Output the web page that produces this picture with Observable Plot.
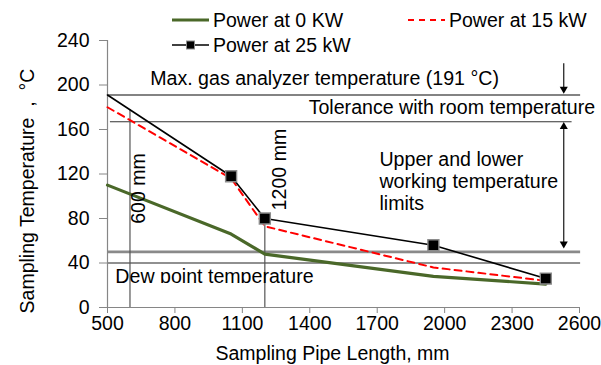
<!DOCTYPE html>
<html>
<head>
<meta charset="utf-8">
<script src="https://cdn.jsdelivr.net/npm/d3@7"></script>
<script src="https://cdn.jsdelivr.net/npm/@observablehq/plot@0.6"></script>
<style>
  body { margin: 0; background: #fff; }
  #chart { position: relative; width: 601px; height: 365px; font-family: "Liberation Sans", Arial, sans-serif; }
  #chart svg { display: block; }
  .key { position: absolute; display: flex; align-items: center; height: 24px; font-size: 19.5px; color: #000; white-space: nowrap; }
  .key svg { margin-right: 4px; }
</style>
</head>
<body>
<div id="chart"></div>
<script>
// Sampling pipe length (mm) at each measuring point
const pipeLengths = [500, 1050, 1200, 1950, 2450];
// Sampling temperature (°C) for each heater power
const temp0kW  = [110, 66, 48, 28, 21];
const temp15kW = [180, 116, 73, 36, 24];
const temp25kW = [191, 118, 80, 56, 26];

const seriesNames = ["Power at 0 KW", "Power at 15 kW", "Power at 25 kW"];

// Reference temperatures (°C)
const maxAnalyzerTemp = 191;
const roomToleranceTemp = 167;
const lowerLimitTemp = 50;
const dewPointTemp = 40;

// Marked pipe lengths (mm) and the 25 kW temperature reached there
const markedLengths = [600, 1200];
const markedTops = [178, 80];

const xTicks = [500, 800, 1100, 1400, 1700, 2000, 2300, 2600];
const yTicks = [0, 40, 80, 120, 160, 200, 240];

const toRows = (temps) => pipeLengths.map((len, i) => ({len, temp: temps[i]}));
const rows0 = toRows(temp0kW);
const rows15 = toRows(temp15kW);
const rows25 = toRows(temp25kW);
const marked = markedLengths.map((len, i) => ({len, top: markedTops[i]}));

const ink = "#000";
const green = "#4a6829";
const red = "#ff0000";
const axisGray = "#868686";
const dewLabel = "Dew point temperature";
const arrowX = 2530;
const noteSize = 19.6;

const plot = Plot.plot({
  width: 601,
  height: 365,
  marginLeft: 107,
  marginRight: 22,
  marginTop: 40,
  marginBottom: 58,
  x: {domain: [500, 2600]},
  y: {domain: [0, 240]},
  style: {fontFamily: "'Liberation Sans', Arial, sans-serif", fontSize: "19.5px", background: "#fff", color: "#000", overflow: "visible"},
  marks: [
    // horizontal reference levels
    Plot.ruleY([maxAnalyzerTemp], {x1: 500, x2: 2605, stroke: "#5a5a5a", strokeWidth: 1.4}),
    Plot.ruleY([roomToleranceTemp], {x1: 513, x2: 2567, stroke: "#333", strokeWidth: 1.1}),
    Plot.ruleY([lowerLimitTemp], {x1: 500, x2: 2605, stroke: "#8a8a8a", strokeWidth: 2.6}),
    Plot.ruleY([dewPointTemp], {x1: 500, x2: 2605, stroke: "#222", strokeWidth: 1.2}),
    // marked pipe lengths
    Plot.ruleX(marked, {x: "len", y1: 0, y2: "top", stroke: "#555", strokeWidth: 1.2}),
    // arrows on the right
    Plot.ruleX([arrowX], {y1: 219, y2: maxAnalyzerTemp + 4, stroke: ink, strokeWidth: 1.1}),
    Plot.dot([arrowX], {x: d => d, y: maxAnalyzerTemp, symbol: "triangle", r: 3, rotate: 180, dy: -6, fill: ink, stroke: "none"}),
    Plot.ruleX([arrowX], {y1: lowerLimitTemp + 5, y2: roomToleranceTemp - 5, stroke: ink, strokeWidth: 1.1}),
    Plot.dot([arrowX], {x: d => d, y: roomToleranceTemp, symbol: "triangle", r: 3, dy: 5, fill: ink, stroke: "none"}),
    Plot.dot([arrowX], {x: d => d, y: lowerLimitTemp, symbol: "triangle", r: 3, rotate: 180, dy: -8, fill: ink, stroke: "none"}),
    // axes
    Plot.ruleY([0], {stroke: axisGray, strokeWidth: 1.2}),
    Plot.ruleX([500], {stroke: axisGray, strokeWidth: 1.2}),
    Plot.axisX({ticks: xTicks, tickSize: 6, tickPadding: 3, tickFormat: d3.format("d"), stroke: axisGray, fill: ink, label: null}),
    Plot.axisY({ticks: yTicks, tickSize: 8, tickPadding: 10, stroke: axisGray, fill: ink, label: null}),
    // series
    Plot.line(rows0, {x: "len", y: "temp", stroke: green, strokeWidth: 3.2}),
    Plot.line(rows15, {x: "len", y: "temp", stroke: red, strokeWidth: 2, strokeDasharray: "7,5"}),
    Plot.line(rows25, {x: "len", y: "temp", stroke: ink, strokeWidth: 1.6}),
    Plot.dot(rows25, {filter: d => d.len > 500, x: "len", y: "temp", symbol: "square", r: 6.2, fill: ink, stroke: "#8c8c8c", strokeWidth: 1.4}),
    // annotations
    Plot.text(["Max. gas analyzer temperature (191 °C)"], {x: 690, y: 206, fontSize: noteSize, textAnchor: "start", lineAnchor: "middle", fill: ink}),
    Plot.text(["Tolerance with room temperature"], {x: 1395, y: 180, fontSize: noteSize, textAnchor: "start", lineAnchor: "middle", fill: ink}),
    Plot.text(["Upper and lower\nworking temperature\nlimits"], {x: 1710, y: 141, fontSize: noteSize, textAnchor: "start", lineAnchor: "top", lineHeight: 1.12, fill: ink}),
    Plot.text([dewLabel], {x: 535, y: 27.7, fontSize: noteSize, textAnchor: "start", lineAnchor: "middle", fill: ink}),
    Plot.text(["600 mm"], {x: 640, y: 107, fontSize: noteSize, rotate: -90, textAnchor: "middle", lineAnchor: "middle", fill: ink}),
    Plot.text(["1200 mm"], {x: 1265, y: 124, fontSize: noteSize, rotate: -90, textAnchor: "middle", lineAnchor: "middle", fill: ink}),
    // axis titles
    Plot.text(["Sampling Temperature\u00a0\u00a0,\u00a0\u00a0°C"], {frameAnchor: "left", dx: -80, dy: 17, rotate: -90, textAnchor: "middle", lineAnchor: "middle", fill: ink}),
    Plot.text(["Sampling Pipe Length, mm"], {frameAnchor: "bottom", dx: -11, dy: 46, textAnchor: "middle", lineAnchor: "middle", fill: ink})
  ]
});

const chart = document.getElementById("chart");
chart.appendChild(plot);

// the dew point label sits in a box that cuts off its descenders
const ySc = plot.scale("y");
const svg = d3.select(plot);
const clipBottom = ySc.apply(27.7) + 0.32 * noteSize + 0.5;
svg.append("defs").append("clipPath").attr("id", "dew-clip")
  .append("rect").attr("x", 0).attr("y", 0).attr("width", 601).attr("height", clipBottom);
svg.selectAll("text").filter(function () { return this.textContent === dewLabel; }).each(function () {
  const g = this.parentNode;
  const wrap = document.createElementNS("http://www.w3.org/2000/svg", "g");
  wrap.setAttribute("clip-path", "url(#dew-clip)");
  g.parentNode.insertBefore(wrap, g);
  wrap.appendChild(g);
});

// legend
const keys = [
  {name: seriesNames[0], color: green, width: 3.2, dash: null, marker: false, left: 172, top: 20},
  {name: seriesNames[1], color: red, width: 2, dash: "6,5", marker: false, left: 408, top: 20},
  {name: seriesNames[2], color: ink, width: 1.6, dash: null, marker: true, left: 172, top: 45}
];
for (const k of keys) {
  const div = document.createElement("div");
  div.className = "key";
  div.style.left = k.left + "px";
  div.style.top = (k.top - 12) + "px";
  const sw = d3.create("svg").attr("width", 37).attr("height", 12);
  sw.append("line").attr("x1", 0).attr("x2", 37).attr("y1", 6).attr("y2", 6)
    .attr("stroke", k.color).attr("stroke-width", k.width).attr("stroke-dasharray", k.dash);
  if (k.marker) sw.append("rect").attr("x", 14.5).attr("y", 2).attr("width", 8).attr("height", 8)
    .attr("fill", ink).attr("stroke", "#8c8c8c").attr("stroke-width", 1);
  div.appendChild(sw.node());
  const span = document.createElement("span");
  span.textContent = k.name;
  div.appendChild(span);
  chart.appendChild(div);
}
</script>
</body>
</html>
